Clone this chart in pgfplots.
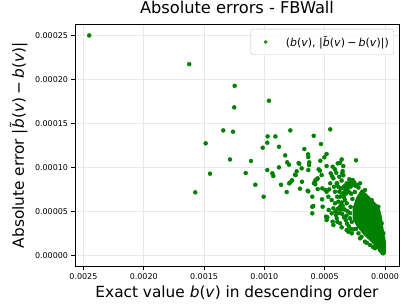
\documentclass[border=0pt]{standalone}
\usepackage{fontspec}
\setmainfont{DejaVu Sans}
\usepackage{pgfplots}
\pgfplotsset{compat=1.18}
\usepackage{pgfplotstable}
\definecolor{mplgreen}{RGB}{0,128,0}
\definecolor{gridgray}{RGB}{232,232,232}

\pgfplotstableread{
x y
0.002452 0.0002500
0.001623 0.0002174
0.001246 0.0001927
0.001250 0.0001682
0.000962 0.0001757
0.001487 0.0001273
0.001341 0.0001420
0.001260 0.0001405
0.001014 0.0001223
0.000973 0.0001352
0.000976 0.0001280
0.000909 0.0001352
0.000879 0.0001234
0.000785 0.0001420
0.000827 0.0001136
0.000669 0.0001208
0.000591 0.0001359
0.000638 0.0001148
0.000636 0.0001117
0.000531 0.0001265
0.000454 0.0001432
0.000484 0.0001151
0.000503 0.0001114
0.001285 0.0001090
0.000359 0.0001090
0.000240 0.0001080
0.001111 0.0001072
0.001451 0.0000928
0.001573 0.0000716
0.001155 0.0000935
0.001075 0.0000802
0.001006 0.0000666
0.000976 0.0000969
0.000934 0.0000932
0.000926 0.0000901
0.000879 0.0001000
0.000811 0.0001057
0.000796 0.0001030
0.000862 0.0000802
0.000788 0.0000825
0.000771 0.0000852
0.000746 0.0000916
0.000732 0.0000955
0.000716 0.0001049
0.000691 0.0000989
0.000688 0.0000836
0.000705 0.0000757
0.000630 0.0001026
0.000636 0.0000727
0.000603 0.0000666
0.000603 0.0000552
0.000603 0.0000477
0.000589 0.0000818
0.000575 0.0000856
0.000558 0.0000875
0.000539 0.0000961
0.000536 0.0001075
0.000628 0.0001057
0.000711 0.0001040
0.000484 0.0001015
0.000434 0.0001007
0.000392 0.0001045
0.000636 0.0000969
0.000550 0.0000977
0.000741 0.0000912
0.000525 0.0000912
0.000450 0.0000932
0.000440 0.0000901
0.000564 0.0000864
0.000774 0.0000848
0.000794 0.0000818
0.000815 0.0000719
0.000583 0.0000833
0.000578 0.0000807
0.000641 0.0000734
0.000558 0.0000753
0.000520 0.0000761
0.000495 0.0000742
0.000484 0.0000723
0.000522 0.0000636
0.000595 0.0000560
0.000517 0.0000552
0.000467 0.0000515
0.000478 0.0000432
0.000428 0.0000534
0.000442 0.0000477
0.000406 0.0000458
0.000454 0.0000818
0.000428 0.0000875
0.000423 0.0000779
0.000415 0.0000723
0.000396 0.0000818
0.000379 0.0000893
0.000396 0.0000666
0.000387 0.0000609
0.000373 0.0001052
0.000346 0.0001015
0.000415 0.0000977
0.000404 0.0000939
0.000351 0.0000958
0.000354 0.0000932
0.000346 0.0000909
0.000296 0.0000864
0.000290 0.0000825
0.000268 0.0000856
0.000318 0.0000818
0.000332 0.0000787
0.000462 0.0000750
0.000400 0.0000818
0.000387 0.0000779
0.000379 0.0000723
0.000470 0.0000666
0.000442 0.0000628
0.000415 0.0000591
0.000373 0.0000666
0.000346 0.0000704
0.000332 0.0000628
0.000318 0.0000591
0.000489 0.0000439
0.000484 0.0000401
0.000434 0.0000382
0.000400 0.0000420
0.000428 0.0000344
0.000373 0.0000364
0.000359 0.0000318
0.000318 0.0000287
0.000304 0.0000268
0.000263 0.0000295
0.000276 0.0000250
0.000207 0.0000193
0.000166 0.0000155
0.000124 0.0000117
0.000083 0.0000080
0.000041 0.0000060
0.000014 0.0000023
0.000207 0.0000818
0.000166 0.0000742
0.000110 0.0000628
0.0000556 0.0000552
0.0000274 0.0000364
0.000014 0.0000250
0.000360 0.0000850
0.000340 0.0000780
0.000330 0.0000740
0.000365 0.0000760
0.000355 0.0000700
0.000340 0.0000660
0.000325 0.0000700
0.000310 0.0000760
0.000300 0.0000720
0.000300 0.0000800
0.000285 0.0000780
0.000270 0.0000800
0.000255 0.0000830
0.000245 0.0000790
0.000230 0.0000800
0.000220 0.0000770
0.000360 0.0000600
0.000350 0.0000560
0.000335 0.0000520
0.000365 0.0000520
0.000380 0.0000480
0.000355 0.0000470
0.000340 0.0000430
0.000325 0.0000400
0.000315 0.0000360
0.000390 0.0000530
0.000370 0.0000560
0.000300 0.0000330
0.000285 0.0000300
0.000395 0.0000380
0.000410 0.0000500
0.000310 0.0000500
0.000320 0.0000450
0.000290 0.0000420
0.000280 0.0000700
0.000270 0.0000640
0.000285 0.0000550
0.000290 0.0000480
0.000275 0.0000380
0.000250 0.0000720
0.000240 0.0000300
0.000220 0.0000250
0.000195 0.0000210
0.000150 0.0000140
0.000100 0.0000095
}\scatterdata

\pgfplotstableread{
x y
0.000193 0.0000742
0.000124 0.0000648
0.0000556 0.0000552
0.0000357 0.0000458
0.0000191 0.0000307
0.000000 0.0000155
0.000000 0.0000023
0.0000274 0.0000011
0.0000688 0.0000098
0.000124 0.0000174
0.000180 0.0000250
0.000235 0.0000344
0.000263 0.0000420
0.000263 0.0000534
0.000235 0.0000648
}\coredata

\begin{document}
\begin{tikzpicture}
\useasboundingbox (-75bp,-41bp) rectangle (332bp,266bp);
\begin{axis}[
  at={(0,0)}, anchor=south west,
  scale only axis, width=324bp, height=242bp,
  x dir=reverse,
  xmin=-0.000116, xmax=0.00257,
  ymin=-0.0000122, ymax=0.000263,
  xtick={0,0.0005,0.001,0.0015,0.002,0.0025},
  xticklabels={0.0000,0.0005,0.0010,0.0015,0.0020,0.0025},
  ytick={0,0.00005,0.0001,0.00015,0.0002,0.00025},
  yticklabels={0.00000,0.00005,0.00010,0.00015,0.00020,0.00025},
  scaled ticks=false,
  tick align=outside, major tick length=3.5bp,
  xtick pos=bottom, ytick pos=left,
  tick style={black, line width=0.6bp},
  grid=major, grid style={gridgray, line width=0.8bp},
  axis line style={black, line width=0.8bp},
  ticklabel style={font=\fontsize{8}{9.6}\selectfont},
  xticklabel style={yshift=-1bp},
  title={Absolute errors - FBWall},
  title style={at={(axis description cs:0.5,1)}, anchor=base, yshift=4.7bp, inner sep=0pt, font=\fontsize{16.3}{19}\selectfont},
  xlabel={Exact value \textit{b}(\textit{v}) in descending order},
  xlabel style={at={(axis description cs:0.5,0)}, anchor=base, yshift=-31bp, inner sep=0pt, font=\fontsize{15.4}{18}\selectfont},
  ylabel={Absolute error |\textit{\~{b}}(\textit{v})\hspace{0.22em}−\hspace{0.22em}\textit{b}(\textit{v})|},
  ylabel style={at={(axis description cs:0,0.5)}, anchor=base, yshift=51bp, inner sep=0pt, font=\fontsize{15.4}{18}\selectfont},
  legend style={at={(axis description cs:1,1)}, anchor=north east, xshift=-5bp, yshift=-5bp,
    draw=gray!45, rounded corners=2.5bp, fill=white, fill opacity=0.8, text opacity=1,
    font=\fontsize{11}{13}\selectfont, inner xsep=3bp, inner ysep=5bp},
  legend cell align=left,
  legend image code/.code={\path[draw=none] (0bp,0bp) -- (30bp,0bp); \draw[mark=*, mark size=1.6bp, mplgreen, only marks] plot coordinates {(12bp,0bp)};},
]
\addplot[forget plot, fill=mplgreen, draw=mplgreen, line width=1.5bp, line join=round] table[x=x,y=y] {\coredata} -- cycle;
\addplot[only marks, mark=*, mark size=2bp, color=mplgreen] table[x=x,y=y] {\scatterdata};
\addlegendentry{(\textit{b}(\textit{v}), |\textit{\~{b}}(\textit{v})\hspace{0.2em}−\hspace{0.2em}\textit{b}(\textit{v})|)}
\end{axis}
\end{tikzpicture}
\end{document}
